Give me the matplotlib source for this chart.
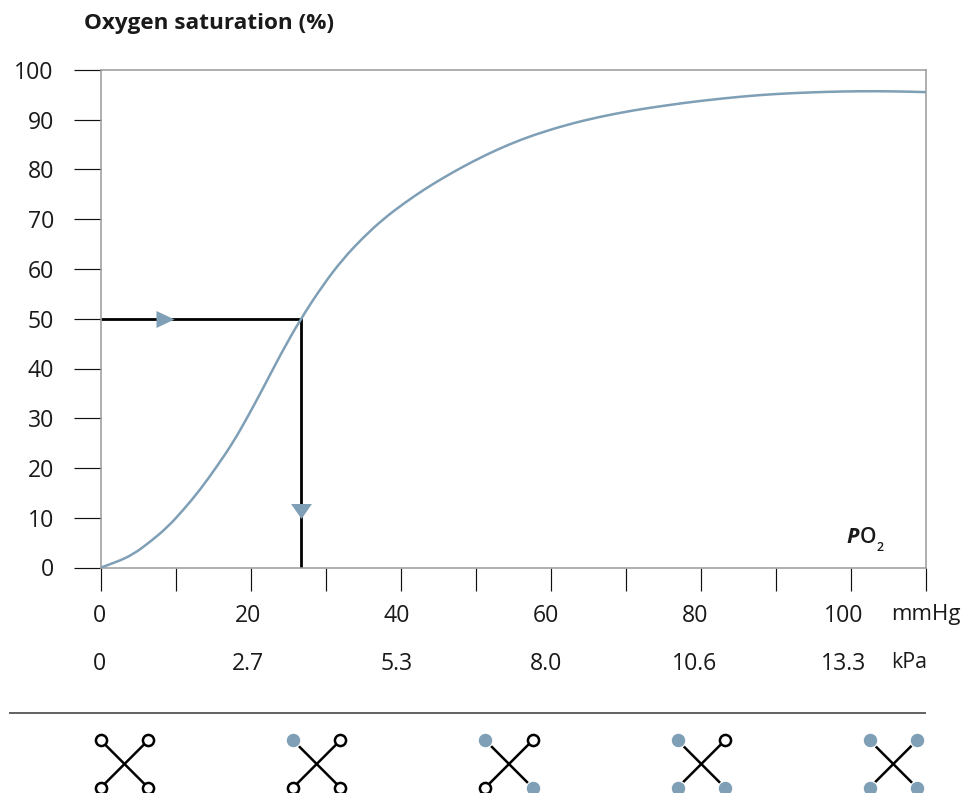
import matplotlib
matplotlib.use("Agg")
import matplotlib.pyplot as plt
from matplotlib.path import Path
from matplotlib.patches import PathPatch

plt.rcParams['font.family'] = ['Open Sans', 'DejaVu Sans']

W, H = 962, 793
BLUE = '#7f9fb6'
GREY = '#9a9a9a'
TXT = '#1a1a1a'

po2 = [0, 2.1, 4.3, 6.5, 8.8, 11, 13.2, 15.4, 17.6, 19.6, 21.6, 24, 26.6, 29.6, 32.3, 35, 37.6, 40.3, 43,
       45.6, 48.3, 51.4, 54.5, 57.6, 62.1, 66.5, 71, 75.4, 79.9, 85.6, 90.1, 94.5, 99, 103.4, 107.9, 110]
sat = [0, 1.1, 2.65, 5.1, 8.0, 11.6, 15.6, 20.2, 25.1, 30.4, 36, 43, 49.9, 56.8, 62.1, 66.4, 70, 73.1, 75.9,
       78.3, 80.6, 83, 85.1, 86.9, 89, 90.6, 91.9, 92.9, 93.8, 94.7, 95.2, 95.5, 95.7, 95.75, 95.65, 95.55]
p50 = 26.6
half_sat = 50
arrow_right_x = 8.5
arrow_down_y = 11.3

y_ticks = list(range(0, 101, 10))
x_ticks = list(range(0, 111, 10))
mmhg_labels = ['0', '20', '40', '60', '80', '100']
kpa_labels = ['0', '2.7', '5.3', '8.0', '10.6', '13.3']
label_px = [99, 248, 397, 546, 695, 844]

icon_centres = [124.5, 316.7, 509, 701.3, 893.3]
# filled corners per icon: TL, TR, BL, BR
icon_states = [
    [0, 0, 0, 0],
    [1, 0, 0, 0],
    [1, 0, 0, 1],
    [1, 0, 1, 1],
    [1, 1, 1, 1],
]

fig = plt.figure(figsize=(W / 100, H / 100), dpi=100, facecolor='white')
L, R, T, B = 101, 926, 70, 567.5
ax = fig.add_axes([L / W, 1 - B / H, (R - L) / W, (B - T) / H])
ax.set_xlim(0, 110)
ax.set_ylim(0, 100)
for s in ax.spines.values():
    s.set_color(GREY)
    s.set_linewidth(1.1)
ax.set_yticks(y_ticks)
ax.set_xticks(x_ticks)
ax.set_xticklabels([])
ax.tick_params(axis='y', length=19.5, width=0.85, color='#111111', pad=14.5,
               labelsize=16.6, labelcolor=TXT)
ax.tick_params(axis='x', length=16.5, width=0.85, color='#111111')

# the read points joined by quadratic segments, so the curve has no visible corners
verts = [(po2[0], sat[0])]
codes = [Path.MOVETO]
for i in range(1, len(po2) - 1):
    verts.append((po2[i], sat[i]))
    codes.append(Path.CURVE3)
    if i < len(po2) - 2:
        end = ((po2[i] + po2[i + 1]) / 2, (sat[i] + sat[i + 1]) / 2)
    else:
        end = (po2[-1], sat[-1])
    verts.append(end)
    codes.append(Path.CURVE3)
ax.add_patch(PathPatch(Path(verts, codes), facecolor='none', edgecolor=BLUE, lw=1.8, zorder=3,
                       capstyle='butt'))
ax.plot([0, p50, p50], [half_sat, half_sat, 0], color='black', lw=2.0, zorder=2,
        solid_joinstyle='miter', solid_capstyle='butt')
ax.plot([arrow_right_x], [half_sat], marker=[(-1, -0.94), (-1, 0.94), (1, 0)], ms=13,
        color=BLUE, mew=0, zorder=4)
ax.plot([p50], [arrow_down_y], marker=[(-1, 0.72), (1, 0.72), (0, -0.72)], ms=15,
        color=BLUE, mew=0, zorder=4)

ov = fig.add_axes([0, 0, 1, 1], facecolor='none')
ov.set_xlim(0, W)
ov.set_ylim(H, 0)
ov.axis('off')

ov.text(84, 23.5, 'Oxygen saturation (%)', fontsize=16.2, fontweight='bold', color=TXT,
        ha='left', va='center')

for x, a, b in zip(label_px, mmhg_labels, kpa_labels):
    ov.text(x, 615.5, a, fontsize=16.6, color=TXT, ha='center', va='center')
    ov.text(x, 664.5, b, fontsize=16.6, color=TXT, ha='center', va='center')
ov.text(891, 614.5, 'mmHg', fontsize=16, color=TXT, ha='left', va='center')
ov.text(891, 662.5, 'kPa', fontsize=15.4, color=TXT, ha='left', va='center')

ov.text(846, 543, 'P', fontsize=15.5, fontweight='bold', style='italic', color=TXT, ha='left', va='baseline')
ov.text(859.5, 543, 'O', fontsize=15, fontweight='semibold', color=TXT, ha='left', va='baseline')
ov.text(877, 551, '2', fontsize=9, fontweight='semibold', color=TXT, ha='left', va='baseline')

ov.plot([9, 926], [713, 713], color='#555555', lw=1.3, solid_capstyle='butt')

dx, dy = 23.6, 23.6
offsets = [(-dx, -dy), (dx, -dy), (-dx, dy), (dx, dy)]
for cx, state in zip(icon_centres, icon_states):
    for (ox, oy), filled in zip(offsets, state):
        ov.plot([cx, cx + ox], [764, 764 + oy], color='black', lw=1.8, solid_capstyle='butt', zorder=2, clip_on=False)
    for (ox, oy), filled in zip(offsets, state):
        if filled:
            ov.plot([cx + ox], [764 + oy], marker='o', ms=10.6, mfc=BLUE, mec='white', mew=0.9,
                    zorder=3, clip_on=True)
        else:
            ov.plot([cx + ox], [764 + oy], marker='o', ms=8.0, mfc='white', mec='black', mew=1.8,
                    zorder=3, clip_on=True)

fig.savefig('out.png', dpi=100, facecolor='white')
